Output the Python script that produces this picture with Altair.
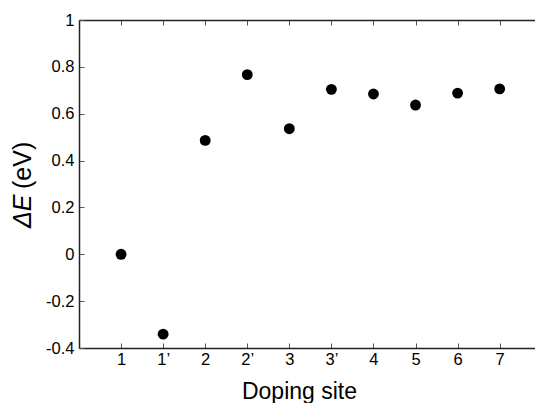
import altair as alt
import pandas as pd

site_labels = ["1", "1\u2019", "2", "2\u2019", "3", "3\u2019", "4", "5", "6", "7"]
site_pos = [1, 2, 3, 4, 5, 6, 7, 8, 9, 10]
delta_e = [0.0, -0.341, 0.486, 0.767, 0.536, 0.704, 0.684, 0.637, 0.688, 0.706]
y_ticks = [-0.4, -0.2, 0.0, 0.2, 0.4, 0.6, 0.8, 1.0]

df = pd.DataFrame({"pos": site_pos, "label": site_labels, "dE": delta_e})

FONT = "Liberation Sans"
label_arr = "[" + ",".join("'" + s + "'" for s in site_labels) + "]"

xscale = alt.Scale(domain=[0, 10.84], nice=False, zero=False)
yscale = alt.Scale(domain=[-0.4, 1.0], nice=False, zero=False)

points = alt.Chart(df).mark_circle(size=118, color="black", opacity=1).encode(
    x=alt.X("pos:Q", scale=xscale,
            axis=alt.Axis(orient="bottom", values=site_pos, grid=False,
                          labelExpr=label_arr + "[datum.value-1]",
                          tickSize=alt.ExprRef(expr="-5"), tickColor="#555", tickWidth=1,
                          domainColor="#222", domainWidth=1.5,
                          labelFont=FONT, labelFontSize=16.5, labelColor="black",
                          labelPadding=8, labelFlush=False,
                          title="Doping site", titleFont=FONT, titleFontSize=23,
                          titleFontWeight="normal", titleColor="black",
                          titleX=220, titleY=50, titleAlign="center", titleAnchor="start",
                          titleBaseline="alphabetic")),
    y=alt.Y("dE:Q", scale=yscale,
            axis=alt.Axis(orient="left", values=y_ticks, grid=False,
                          labelExpr="datum.value == 0 ? '0' : datum.value == 1 ? '1' : replace(format(datum.value, '.1f'), '\u2212', '-')",
                          tickSize=alt.ExprRef(expr="-5"), tickColor="#555", tickWidth=1,
                          domainColor="#222", domainWidth=1.5,
                          labelFont=FONT, labelFontSize=16.5, labelColor="black",
                          labelPadding=10, labelFlush=False,
                          title=None)),
)

top_axis = alt.Chart(df).mark_circle(opacity=0).encode(
    x=alt.X("pos:Q", scale=xscale,
            axis=alt.Axis(orient="top", values=site_pos, grid=False, labels=False,
                          tickSize=alt.ExprRef(expr="-5"), tickColor="#555", tickWidth=1,
                          domainColor="#222", domainWidth=1.5, title=None)),
    y=alt.Y("dE:Q", scale=yscale),
)

title_df = pd.DataFrame({"a": [0]})
t1 = alt.Chart(title_df).mark_text(
    text="\u0394E", font=FONT, fontSize=25, fontStyle="italic", angle=270,
    align="left", baseline="alphabetic", color="black"
).encode(x=alt.value(-48.5), y=alt.value(208))
t2 = alt.Chart(title_df).mark_text(
    text="(eV)", font=FONT, fontSize=25, angle=270,
    align="left", baseline="alphabetic", color="black"
).encode(x=alt.value(-48.5), y=alt.value(169))

chart = alt.layer(points, top_axis, t1, t2).resolve_axis(x="independent").properties(
    width=456, height=328,
    autosize=alt.AutoSizeParams(type="none"),
    padding={"left": 79, "top": 20, "right": 0, "bottom": 55},
).configure_view(stroke=None).configure(background="white")

chart.save("out.html", embed_options={"renderer": "svg", "actions": False})
